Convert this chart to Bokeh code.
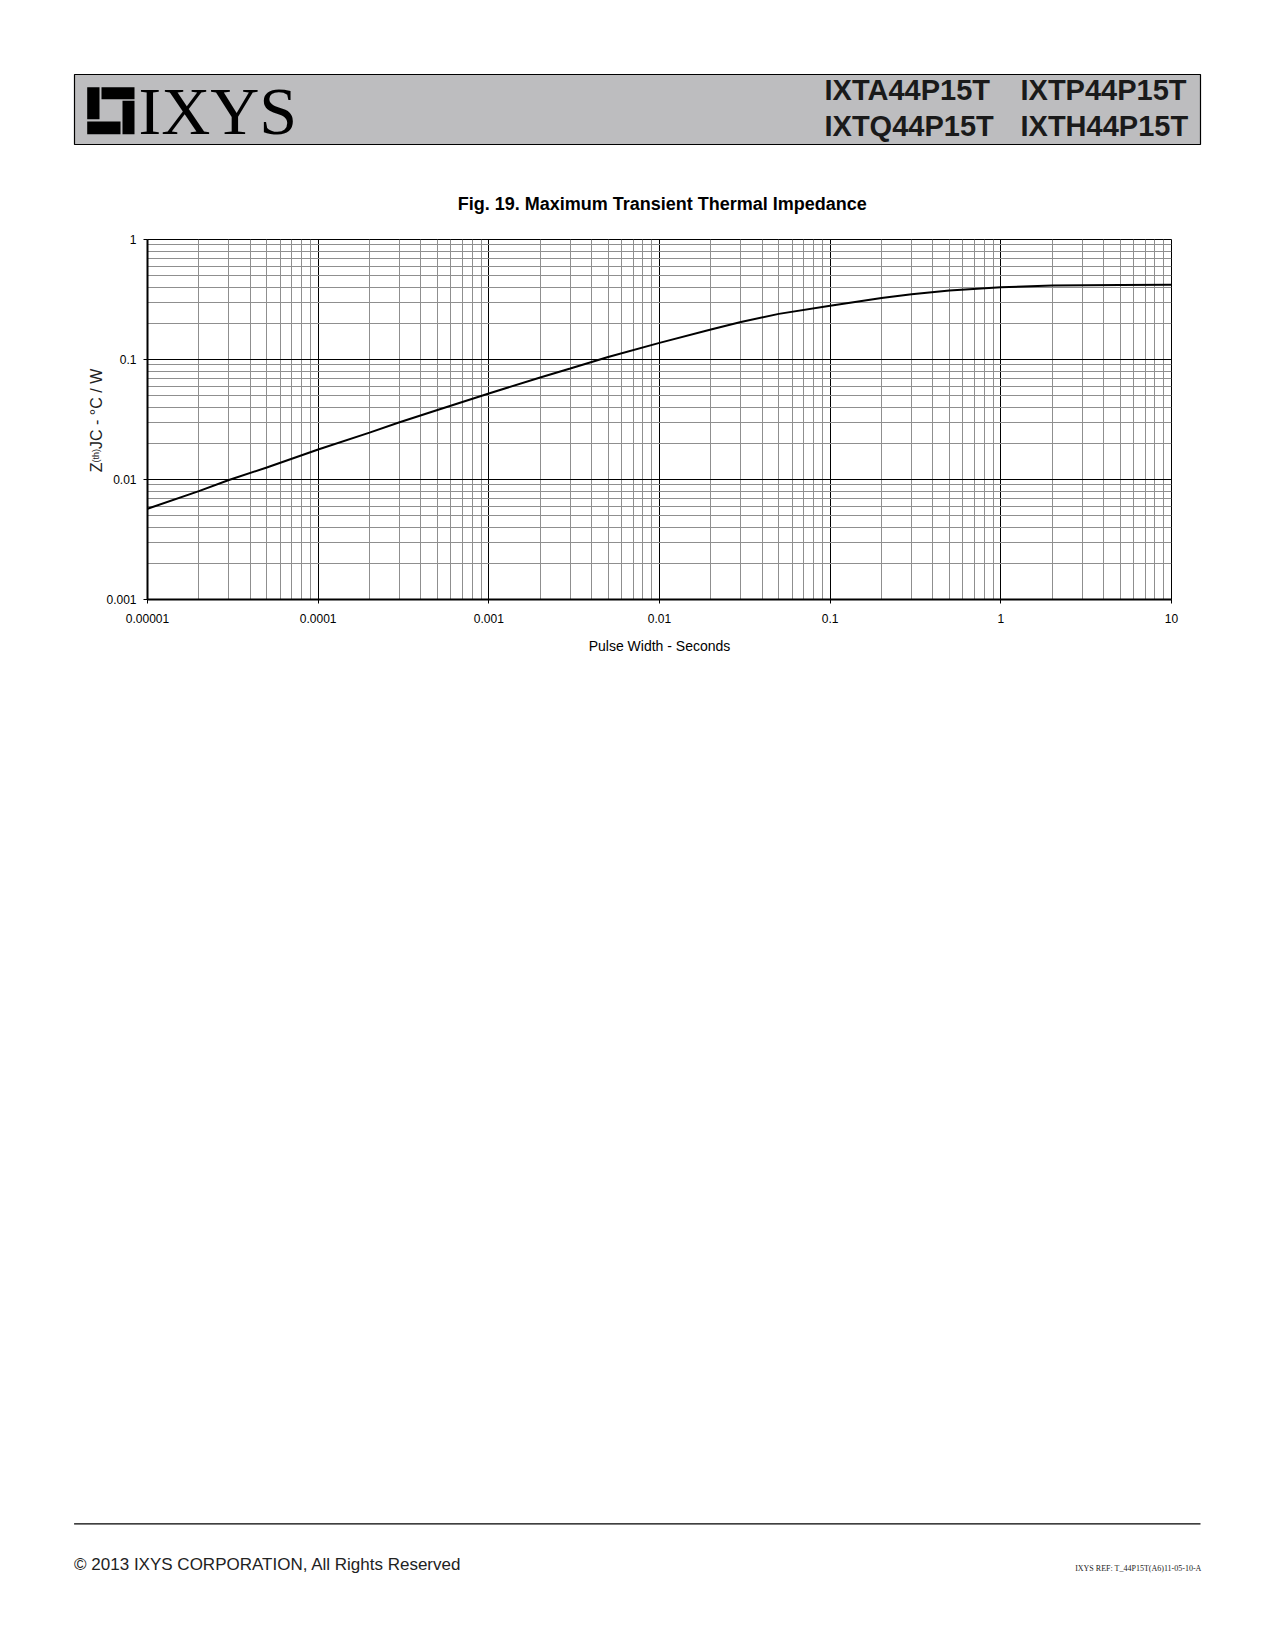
import numpy as np
from bokeh.plotting import figure
from bokeh.models import Range1d, FixedTicker
from bokeh.layouts import column, row
from bokeh.core.properties import value
from bokeh.embed import file_html
from bokeh.resources import INLINE

# ---------------- data ----------------
pulse_width_s = [1e-5, 2e-5, 3e-5, 5e-5, 1e-4, 2e-4, 3e-4, 5e-4,
                 1e-3, 2e-3, 3e-3, 5e-3, 1e-2, 2e-2, 3e-2, 5e-2,
                 0.1, 0.2, 0.3, 0.5, 1, 2, 5, 10]
zth_jc = [0.0057, 0.0080, 0.0099, 0.0126, 0.0178, 0.0246, 0.0300, 0.0379,
          0.0521, 0.0708, 0.0841, 0.105, 0.1375, 0.178, 0.205, 0.240,
          0.280, 0.326, 0.350, 0.375, 0.400, 0.414, 0.418, 0.419]

x_major = [1e-5, 1e-4, 1e-3, 1e-2, 1e-1, 1, 10]
x_tick_labels = ["0.00001", "0.0001", "0.001", "0.01", "0.1", "1", "10"]
y_major = [1e-3, 1e-2, 1e-1, 1]
y_tick_labels = ["0.001", "0.01", "0.1", "1"]

title_text = "Fig. 19. Maximum Transient Thermal Impedance"
x_label_text = "Pulse Width - Seconds"
y_label_parts = ["Z", "(th)", "JC - \u00b0C / W"]
part_numbers = [["IXTA44P15T", "IXTP44P15T"], ["IXTQ44P15T", "IXTH44P15T"]]
copyright_text = "\u00a9 2013 IXYS CORPORATION, All Rights Reserved"
ref_text = "IXYS REF: T_44P15T(A6)11-05-10-A"

SANS = "Liberation Sans"
SERIF = "Liberation Serif"
MID = value("middle")
K_SANS = 0.37   # baseline -> text middle offset, in em
K_SERIF = 0.33

PAGE_W = 1275


def blank_fig(w, h):
    f = figure(width=w, height=h, x_range=Range1d(0, w), y_range=Range1d(h, 0),
               toolbar_location=None, output_backend="svg",
               x_axis_location=None, y_axis_location=None, min_border=0)
    f.grid.visible = False
    f.outline_line_color = None
    f.background_fill_color = "white"
    f.border_fill_color = "white"
    f.frame_align = False
    return f


# ---------------- header (page y 0..225) ----------------
H1 = 225
hdr = blank_fig(PAGE_W, H1)
hdr.quad(left=[74], right=[1200], top=[74], bottom=[144],
         fill_color="#bdbdbf", line_color="black", line_width=1.2)
hdr.quad(left=[86.7, 101, 122, 86.7], right=[99, 134, 134, 120],
         top=[86.7, 86.7, 100.3, 121], bottom=[118.7, 98.7, 133.7, 133.7],
         fill_color="black", line_color=None)
hdr.text(x=[138], y=[132.7 - K_SERIF * 68], text=["IXYS"], text_font=value(SERIF),
         text_font_size="68px", text_color="black", text_baseline=MID)
for names, yb in zip(part_numbers, [100, 136.3]):
    hdr.text(x=[824, 1020], y=[yb - K_SANS * 29] * 2, text=names, text_font=value(SANS),
             text_font_style="bold", text_font_size="29px", text_color="#1a1a1a",
             text_baseline=MID)
hdr.text(x=[661.7], y=[210 - K_SANS * 18], text=[title_text], text_font=value(SANS),
         text_font_style="bold", text_font_size="18px", text_color="black",
         text_align="center", text_baseline=MID)

# ---------------- y-axis label strip (page x 0..103, page y 225..665) ----------------
H2 = 440
YL_W = 103
ylab = blank_fig(YL_W, H2)
ylab.text(x=[95.5, 95.5, 95.5], y=[246.7, 236.9, 223.4],
          text=y_label_parts, angle=np.pi / 2, text_align="left", text_baseline=MID,
          text_font=value(SANS), text_font_size=["16px", "9px", "16px"],
          text_color="#222222")

# ---------------- chart ----------------
p = figure(width=PAGE_W - YL_W, height=H2, x_axis_type="log", y_axis_type="log",
           x_range=Range1d(1e-5, 10), y_range=Range1d(1e-3, 1),
           toolbar_location=None, output_backend="svg",
           min_border_left=44, min_border_right=104,
           min_border_top=14, min_border_bottom=66)
p.frame_align = False
p.background_fill_color = "white"
p.border_fill_color = "white"
p.outline_line_color = "black"
p.outline_line_width = 1

x_minor = [d * k for d in x_major[:-1] for k in range(2, 10)]
y_minor = [d * k for d in y_major[:-1] for k in range(2, 10)]
xt = FixedTicker(ticks=x_major, minor_ticks=x_minor)
yt = FixedTicker(ticks=y_major, minor_ticks=y_minor)
p.xaxis.ticker = xt
p.yaxis.ticker = yt
p.xgrid.ticker = xt
p.ygrid.ticker = yt
p.xaxis.major_label_overrides = dict(zip(x_major, x_tick_labels))
p.yaxis.major_label_overrides = dict(zip(y_major, y_tick_labels))

for g in (p.xgrid, p.ygrid):
    g.grid_line_color = "black"
    g.grid_line_width = 1
    g.minor_grid_line_color = "#8f8f8f"
    g.minor_grid_line_width = 1

for ax in (p.xaxis, p.yaxis):
    ax.axis_line_color = "black"
    ax.axis_line_width = 2
    ax.major_tick_line_color = "black"
    ax.major_tick_out = 4
    ax.major_tick_in = 0
    ax.minor_tick_out = 0
    ax.minor_tick_in = 0
    ax.major_label_text_font = SANS
    ax.major_label_text_font_size = "12px"
    ax.major_label_text_color = "black"

p.xaxis.major_label_standoff = 10
p.yaxis.major_label_standoff = 7
p.xaxis.axis_label = x_label_text
p.xaxis.axis_label_text_font = SANS
p.xaxis.axis_label_text_font_size = "14px"
p.xaxis.axis_label_text_font_style = "normal"
p.xaxis.axis_label_text_color = "black"
p.xaxis.axis_label_standoff = 12

p.line(pulse_width_s, zth_jc, line_color="black", line_width=2)

# ---------------- footer (page y 665..1640) ----------------
H3 = 975
ftr = blank_fig(PAGE_W, H3)
ftr.segment(x0=[73.6], y0=[858.4], x1=[1200], y1=[858.4], line_color="black", line_width=1.3)
ftr.text(x=[73.6], y=[905 - K_SANS * 17], text=[copyright_text], text_font=value(SANS),
         text_font_size="17px", text_color="#222222", text_baseline=MID)
ftr.text(x=[1201], y=[906 - K_SERIF * 8], text=[ref_text], text_font=value(SERIF),
         text_font_size="8px", text_color="#222222", text_align="right",
         text_baseline=MID)

layout = column(hdr, row(ylab, p, spacing=0), ftr, spacing=0)
open("out.html", "w").write(file_html(layout, INLINE))
